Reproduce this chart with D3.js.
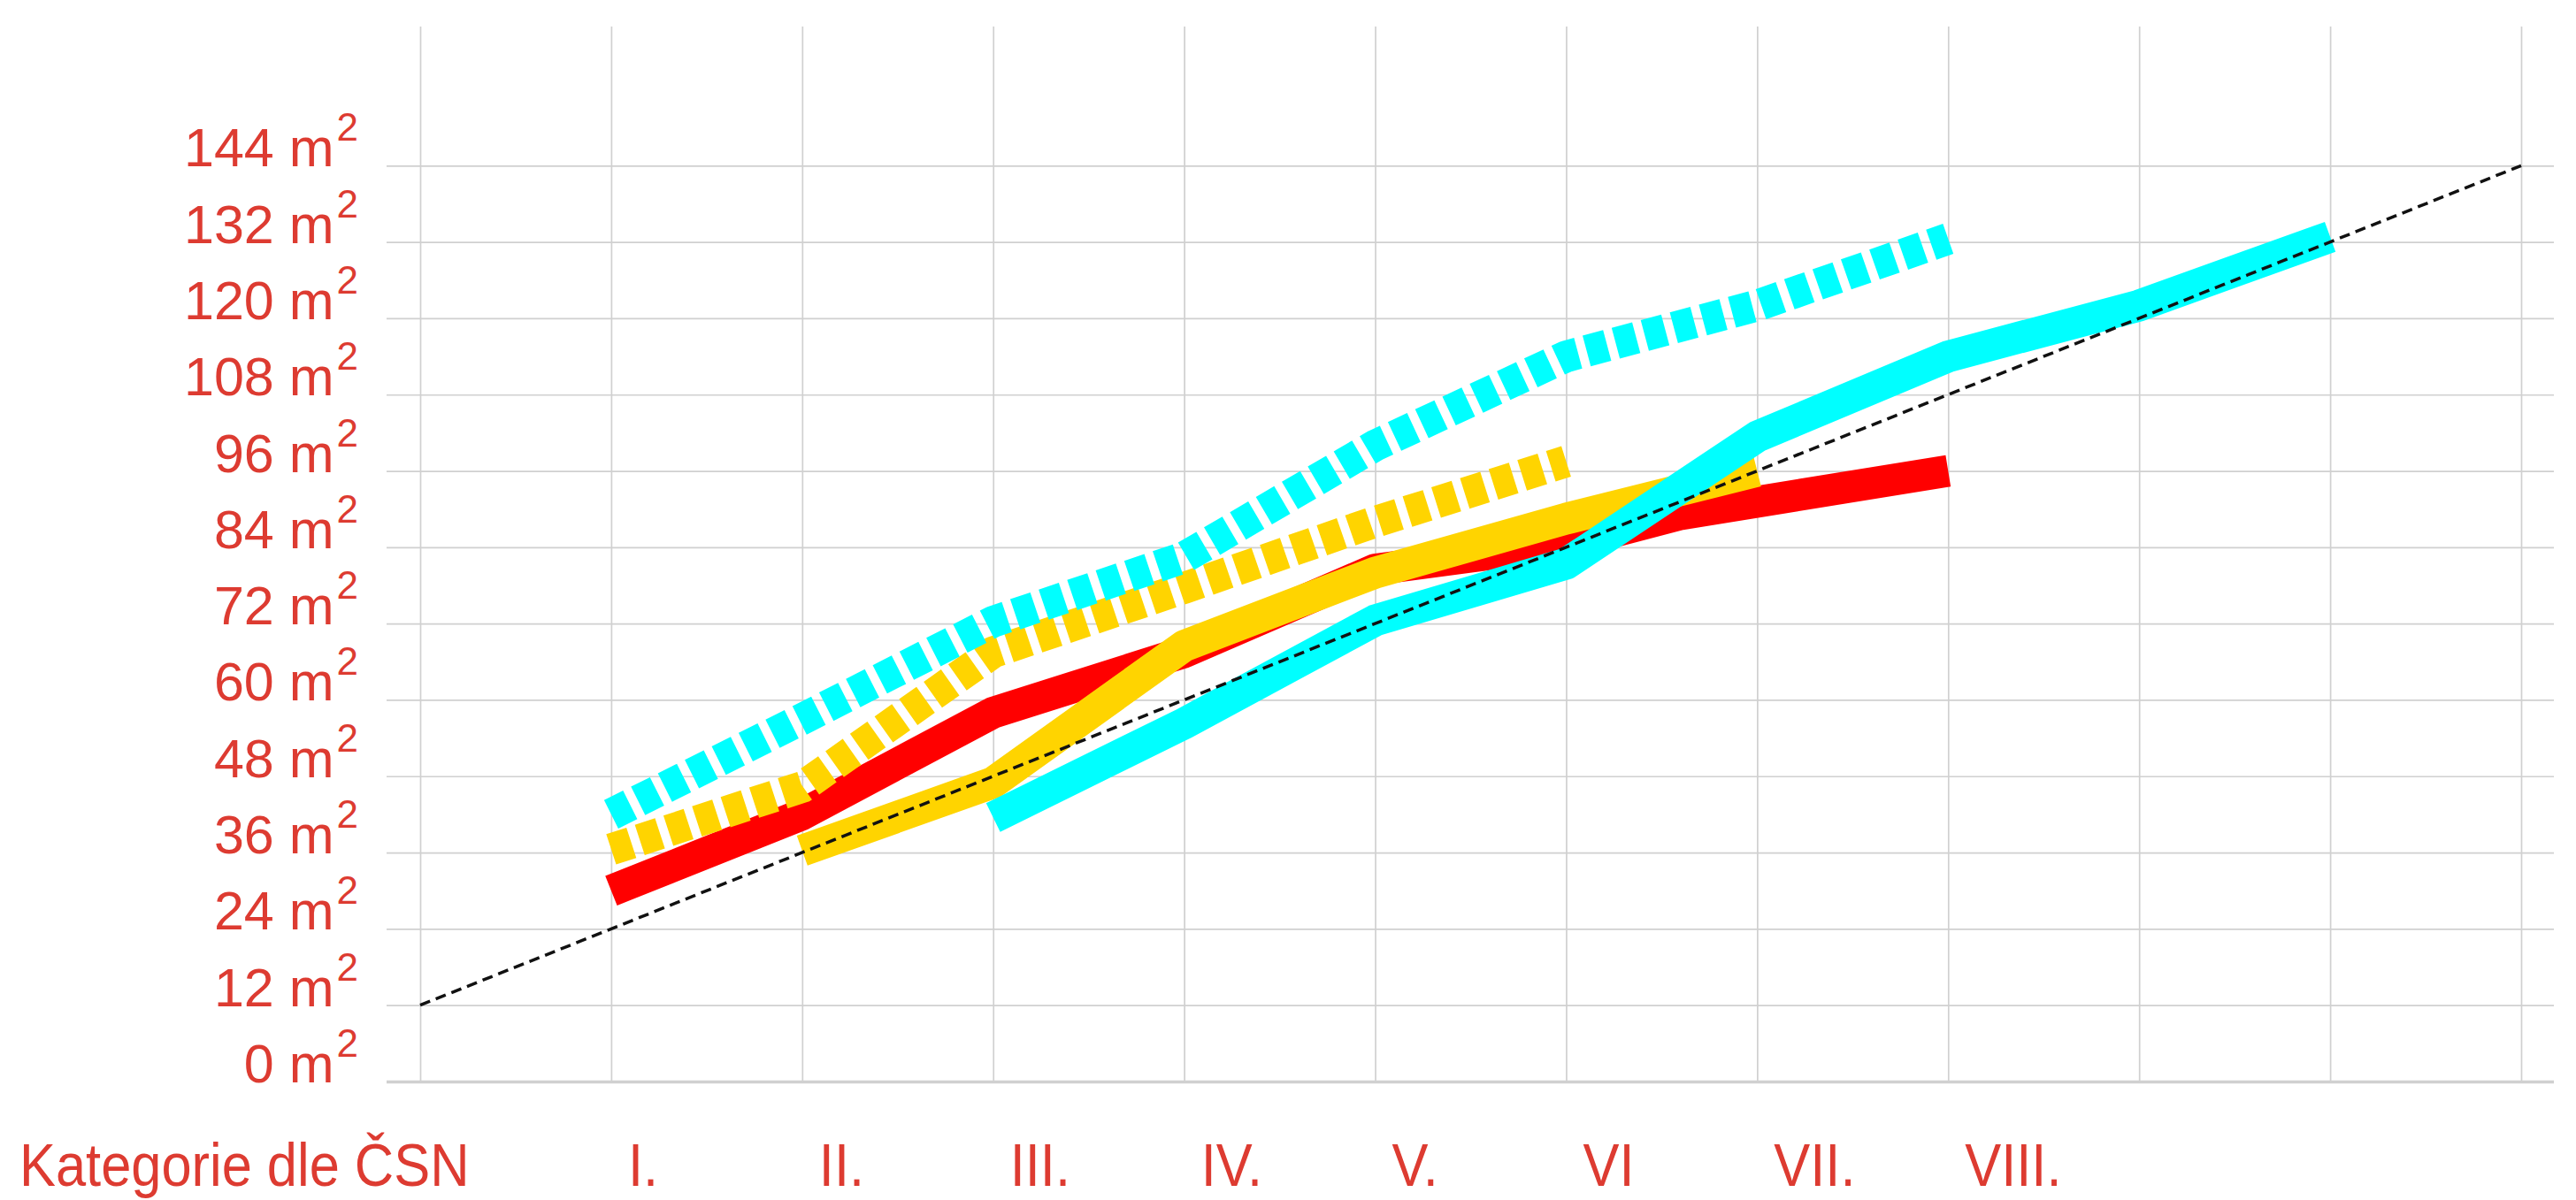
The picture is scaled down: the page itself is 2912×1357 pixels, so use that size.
<!DOCTYPE html>
<html>
<head>
<meta charset="utf-8">
<script src="https://cdn.jsdelivr.net/npm/d3@7"></script>
<style>
  html, body { margin: 0; padding: 0; background: #ffffff; }
  svg { display: block; }
</style>
</head>
<body>
<svg id="chart" width="2912" height="1357"></svg>
<script>
// ---------- data ----------
const categories = ["I.", "II.", "III.", "IV.", "V.", "VI", "VII.", "VIII."];
const categoryPos = [1, 2, 3, 4, 5, 6, 7, 8];
const axisTitle = "Kategorie dle ČSN";
const xGrid = [0, 1, 2, 3, 4, 5, 6, 7, 8, 9, 10, 11];
const yTicks = [0, 12, 24, 36, 48, 60, 72, 84, 96, 108, 120, 132, 144];
const yUnit = "m";
const yUnitExp = "2";

// red solid
const redX = [1, 2, 3, 4, 5, 6, 6.6, 8];
const redY = [30, 42, 58, 67.5, 80.5, 84.5, 89.2, 96];
// yellow solid
const yellowX = [2, 3, 4, 5, 6, 7];
const yellowY = [36.3, 47, 68.5, 80, 88.5, 96];
// yellow dashed
const yellowDashX = [1, 2, 3, 4, 5, 6];
const yellowDashY = [36.5, 46.3, 67.5, 77.6, 88, 97.5];
// cyan solid
const cyanX = [3, 4, 5, 6, 7, 8, 9, 10];
const cyanY = [41.5, 56.3, 72.5, 81.4, 101.4, 114, 122, 132.8];
// cyan dashed
const cyanDashX = [1, 2, 3, 4, 5, 6, 7, 8];
const cyanDashY = [42, 57, 72.3, 82.4, 100, 114, 122, 132.5];
// black dashed reference
const refX = [0, 11];
const refY = [12, 144];

// ---------- layout ----------
const svg = d3.select("#chart");
svg.append("rect").attr("width", 2912).attr("height", 1357).attr("fill", "#ffffff");

const x = d3.scaleLinear().domain([0, 11]).range([475, 2850]);
const y = d3.scaleLinear().domain([0, 144]).range([1223, 187.3]);

const gridColor = "#d0d0d0";
const textColor = "#dd3b31";
const font = "'Liberation Sans', Arial, Helvetica, sans-serif";

// horizontal grid
const hGrid = svg.append("g")
  .attr("transform", "translate(437,0)")
  .call(d3.axisLeft(y).tickValues(yTicks).tickSize(-(2887 - 437)).tickFormat(""));
hGrid.select(".domain").remove();
hGrid.selectAll(".tick line")
  .attr("stroke", gridColor)
  .attr("stroke-width", d => d === 0 ? 3.5 : 1.7);

// vertical grid
const vGrid = svg.append("g")
  .attr("transform", "translate(0,1223)")
  .call(d3.axisBottom(x).tickValues(xGrid).tickSize(-(1223 - 30)).tickFormat(""));
vGrid.select(".domain").remove();
vGrid.selectAll(".tick line")
  .attr("stroke", gridColor)
  .attr("stroke-width", 1.7);

// y labels
const yl = svg.append("g").attr("font-family", font).attr("fill", textColor);
yTicks.forEach(v => {
  const t = yl.append("text")
    .attr("x", 405)
    .attr("y", y(v) + 1)
    .attr("text-anchor", "end")
    .attr("font-size", 61);
  t.append("tspan").text(v + " " + yUnit);
  t.append("tspan").attr("font-size", 44).attr("dx", 3).attr("dy", -29).text(yUnitExp);
});

// x labels (condensed)
const xl = svg.append("g").attr("font-family", font).attr("fill", textColor).attr("font-size", 69);
xl.append("text")
  .attr("transform", "translate(22,1341) scale(0.89,1)")
  .text(axisTitle);
categories.forEach((c, i) => {
  xl.append("text")
    .attr("transform", `translate(${x(categoryPos[i]) + 19},1341) scale(0.89,1)`)
    .text(c);
});

// ---------- series ----------
const line = d3.line().x(d => x(d[0])).y(d => y(d[1]));
const zip = (a, b) => a.map((v, i) => [v, b[i]]);

const series = [
  { xs: redX, ys: redY, color: "#ff0000", dash: null },
  { xs: yellowX, ys: yellowY, color: "#ffd400", dash: null },
  { xs: yellowDashX, ys: yellowDashY, color: "#ffd400", dash: "24 10" },
  { xs: cyanX, ys: cyanY, color: "#00ffff", dash: null },
  { xs: cyanDashX, ys: cyanDashY, color: "#00ffff", dash: "24 10" }
];

const sg = svg.append("g");
series.forEach(s => {
  sg.append("path")
    .attr("d", line(zip(s.xs, s.ys)))
    .attr("fill", "none")
    .attr("stroke", s.color)
    .attr("stroke-width", 36)
    .attr("stroke-linecap", "butt")
    .attr("stroke-linejoin", "round")
    .attr("stroke-dasharray", s.dash);
});

svg.append("path")
  .attr("d", line(zip(refX, refY)))
  .attr("fill", "none")
  .attr("stroke", "#111111")
  .attr("stroke-width", 3.5)
  .attr("stroke-dasharray", "12 7");
</script>
</body>
</html>
